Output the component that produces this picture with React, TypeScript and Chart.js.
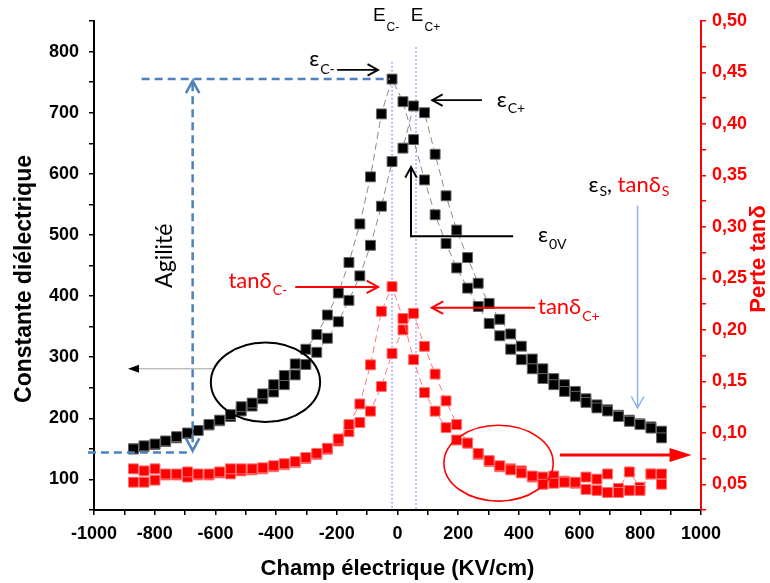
import React, { useEffect, useRef } from 'react';
import { Chart, registerables } from 'chart.js';

Chart.register(...registerables);

// Electric field (kV/cm) sweep points
const fieldKVcm = [
  -870, -835, -799, -764, -728, -692, -657, -621, -586, -550,
  -515, -479, -444, -408, -373, -337, -302, -266, -231, -195,
  -160, -124, -89, -53, -18, 18, 53, 89, 124, 160,
  195, 231, 266, 302, 337, 373, 408, 444, 479, 515,
  550, 586, 621, 657, 692, 728, 764, 799, 835, 870,
];

// Dielectric constant, branch peaking at Ec-
const permittivityBranchMinus = [
  150, 155, 158, 163, 170, 176, 180, 190, 197, 206,
  219, 225, 240, 255, 270, 289, 313, 337, 369, 405,
  455, 518, 595, 698, 755, 718, 656, 590, 533, 486,
  446, 413, 383, 355, 335, 313, 296, 281, 265, 255,
  244, 236, 226, 217, 212, 203, 195, 190, 184, 168,
];

// Dielectric constant, branch peaking at Ec+
const permittivityBranchPlus = [
  150, 154, 157, 162, 168, 175, 180, 189, 196, 203,
  212, 220, 232, 243, 255, 271, 288, 308, 331, 358,
  393, 433, 483, 547, 620, 642, 711, 700, 632, 564,
  508, 463, 421, 388, 362, 338, 318, 297, 281, 265,
  255, 244, 232, 222, 214, 205, 197, 191, 186, 179,
];

// Loss tangent, branch peaking at Ec-
const lossBranchMinus = [
  0.065, 0.063, 0.065, 0.060, 0.060, 0.062, 0.060, 0.060, 0.062, 0.065,
  0.065, 0.065, 0.066, 0.068, 0.070, 0.072, 0.076, 0.080, 0.085, 0.094,
  0.108, 0.128, 0.166, 0.218, 0.242, 0.211, 0.171, 0.139, 0.121, 0.105,
  0.093, 0.090, 0.080, 0.073, 0.068, 0.064, 0.061, 0.058, 0.050, 0.051,
  0.052, 0.052, 0.045, 0.044, 0.042, 0.042, 0.044, 0.044, 0.060, 0.050,
];

// Loss tangent, branch peaking at Ec+
const lossBranchPlus = [
  0.052, 0.052, 0.054, 0.059, 0.059, 0.057, 0.059, 0.059, 0.061, 0.060,
  0.063, 0.064, 0.065, 0.067, 0.069, 0.071, 0.075, 0.079, 0.084, 0.092,
  0.101, 0.110, 0.121, 0.145, 0.177, 0.200, 0.216, 0.184, 0.157, 0.131,
  0.108, 0.090, 0.079, 0.072, 0.067, 0.065, 0.063, 0.057, 0.057, 0.058,
  0.053, 0.051, 0.057, 0.055, 0.060, 0.046, 0.062, 0.047, 0.060, 0.060,
];

const xTicksLabelled = [-1000, -800, -600, -400, -200, 0, 200, 400, 600, 800, 1000];

const AX_FONT = "'Liberation Sans', Arial, sans-serif";
const ANN_FONT = "Lato, 'Open Sans', 'DejaVu Sans', sans-serif";

function chevron(ctx: CanvasRenderingContext2D, tx: number, ty: number, ang: number, len: number, spread: number) {
  ctx.beginPath();
  ctx.moveTo(tx - len * Math.cos(ang - spread), ty - len * Math.sin(ang - spread));
  ctx.lineTo(tx, ty);
  ctx.lineTo(tx - len * Math.cos(ang + spread), ty - len * Math.sin(ang + spread));
  ctx.stroke();
}

function subText(ctx: CanvasRenderingContext2D, x: number, y: number, main: string, sub: string,
  color: string, mainSize: number, subSize: number, subDy: number, subColor?: string) {
  ctx.textAlign = 'left';
  ctx.textBaseline = 'alphabetic';
  ctx.fillStyle = color;
  ctx.font = `${mainSize}px ${ANN_FONT}`;
  ctx.fillText(main, x, y);
  const w = ctx.measureText(main).width;
  ctx.fillStyle = subColor || color;
  ctx.font = `${subSize}px ${ANN_FONT}`;
  ctx.fillText(sub, x + w + 1, y + subDy);
  return x + w + 1 + ctx.measureText(sub).width;
}

const annotationPlugin = {
  id: 'figureAnnotations',
  beforeDatasetsDraw(chart: any) {
    const { ctx, scales } = chart;
    const X = (v: number) => scales.x.getPixelForValue(v);
    const Y = (v: number) => scales.y.getPixelForValue(v);
    ctx.save();
    ctx.strokeStyle = '#8c8cff';
    ctx.lineWidth = 1.5;
    ctx.setLineDash([1.5, 2.5]);
    ctx.beginPath();
    ctx.moveTo(X(-18), Y(783));
    ctx.lineTo(X(-18), Y(50));
    ctx.moveTo(X(61), Y(807));
    ctx.lineTo(X(61), Y(50));
    ctx.stroke();
    ctx.restore();
  },
  afterDraw(chart: any) {
    const { ctx, scales } = chart;
    const X = (v: number) => scales.x.getPixelForValue(v);
    const Y = (v: number) => scales.y.getPixelForValue(v);
    ctx.save();

    // Axis titles
    ctx.fillStyle = '#000';
    ctx.font = `bold 23px ${AX_FONT}`;
    ctx.textAlign = 'center';
    ctx.textBaseline = 'middle';
    ctx.save();
    ctx.translate(25, 279);
    ctx.rotate(-Math.PI / 2);
    ctx.fillText('Constante diélectrique', 0, 0);
    ctx.restore();

    ctx.fillStyle = '#ff0000';
    ctx.font = `bold 22px ${AX_FONT}`;
    ctx.save();
    ctx.translate(759, 259);
    ctx.rotate(-Math.PI / 2);
    ctx.fillText('Perte tanδ', 0, 0);
    ctx.restore();

    ctx.fillStyle = '#000';
    ctx.font = `bold 22px ${AX_FONT}`;
    ctx.textBaseline = 'alphabetic';
    ctx.fillText('Champ électrique (KV/cm)', (chart.chartArea.left + chart.chartArea.right) / 2, 575);

    // E_C- / E_C+ labels
    ctx.textAlign = 'left';
    const ecLabel = (xv: number, sub: string) => {
      const px = X(xv), py = Y(850);
      ctx.fillStyle = '#000';
      ctx.font = `19px ${AX_FONT}`;
      ctx.fillText('E', px, py);
      const w = ctx.measureText('E').width;
      ctx.font = `12px ${AX_FONT}`;
      ctx.fillText(sub, px + w + 1, py + 9.5);
    };
    ecLabel(-81, 'C-');
    ecLabel(44, 'C+');

    // Blue dashed agility lines
    ctx.strokeStyle = '#4f81bd';
    ctx.lineWidth = 2.5;
    ctx.setLineDash([8, 5]);
    ctx.beginPath();
    ctx.moveTo(X(-843), Y(755));
    ctx.lineTo(X(-25), Y(755));
    ctx.moveTo(X(-675), Y(748));
    ctx.lineTo(X(-675), Y(152));
    ctx.moveTo(X(-1020), Y(144));
    ctx.lineTo(X(-675), Y(144));
    ctx.stroke();
    ctx.setLineDash([]);
    chevron(ctx, X(-675), Y(752), -Math.PI / 2, 14, 0.5);
    chevron(ctx, X(-675), Y(147), Math.PI / 2, 14, 0.5);

    // Agilité
    ctx.fillStyle = '#000';
    ctx.font = `23px ${ANN_FONT}`;
    ctx.textAlign = 'center';
    ctx.textBaseline = 'alphabetic';
    ctx.save();
    ctx.translate(X(-743), Y(466));
    ctx.rotate(-Math.PI / 2);
    ctx.fillText('Agilité', 0, 0);
    ctx.restore();

    // Black ellipse + grey arrow
    ctx.strokeStyle = '#000';
    ctx.lineWidth = 2;
    ctx.beginPath();
    ctx.ellipse(X(-435), Y(259), X(-435 + 180) - X(-435), Y(259) - Y(259 + 65), 0, 0, Math.PI * 2);
    ctx.stroke();
    ctx.strokeStyle = '#a0a0a0';
    ctx.lineWidth = 1;
    ctx.beginPath();
    ctx.moveTo(X(-608), Y(281));
    ctx.lineTo(X(-880), Y(281));
    ctx.stroke();
    ctx.fillStyle = '#000';
    ctx.beginPath();
    ctx.moveTo(X(-888), Y(281));
    ctx.lineTo(X(-888) + 11, Y(281) - 4);
    ctx.lineTo(X(-888) + 11, Y(281) + 4);
    ctx.closePath();
    ctx.fill();

    // Red ellipse + red arrow
    ctx.strokeStyle = '#ff0000';
    ctx.lineWidth = 1.6;
    ctx.beginPath();
    ctx.ellipse(X(333), Y(126.6), X(333 + 180) - X(333), Y(126.6) - Y(126.6 + 62), 0, 0, Math.PI * 2);
    ctx.stroke();
    ctx.lineWidth = 3;
    ctx.beginPath();
    ctx.moveTo(X(535), Y(140));
    ctx.lineTo(X(905), Y(140));
    ctx.stroke();
    ctx.fillStyle = '#ff0000';
    ctx.beginPath();
    ctx.moveTo(X(969), Y(140));
    ctx.lineTo(X(969) - 22, Y(140) - 7);
    ctx.lineTo(X(969) - 22, Y(140) + 7);
    ctx.closePath();
    ctx.fill();

    // epsilon C-
    ctx.lineWidth = 1.8;
    subText(ctx, X(-291), Y(777), 'ε', 'C-', '#000', 22, 14, 8);
    ctx.strokeStyle = '#000';
    ctx.beginPath();
    ctx.moveTo(X(-199), Y(770));
    ctx.lineTo(X(-64), Y(770));
    ctx.stroke();
    chevron(ctx, X(-64), Y(770), 0, 12, 0.5);

    // epsilon C+
    ctx.beginPath();
    ctx.moveTo(X(278), Y(720.5));
    ctx.lineTo(X(114), Y(720.5));
    ctx.stroke();
    chevron(ctx, X(114), Y(720.5), Math.PI, 12, 0.5);
    subText(ctx, X(327), Y(709), 'ε', 'C+', '#000', 22, 14, 6);

    // epsilon 0V
    ctx.lineWidth = 2;
    ctx.beginPath();
    ctx.moveTo(X(44.5), Y(609));
    ctx.lineTo(X(44.5), Y(498));
    ctx.lineTo(X(381), Y(498));
    ctx.stroke();
    chevron(ctx, X(44.5), Y(611), -Math.PI / 2, 12, 0.5);
    subText(ctx, X(463), Y(488), 'ε', '0V', '#000', 22, 14, 7);

    // epsilon S, tan delta S
    let nx = subText(ctx, X(629), Y(570), 'ε', 'S', '#000', 22, 14, 4);
    ctx.fillStyle = '#000';
    ctx.font = `22px ${ANN_FONT}`;
    ctx.fillText(',', nx, Y(570));
    nx += ctx.measureText(', ').width;
    subText(ctx, nx, Y(570), 'tanδ', 'S', '#ff0000', 22, 14, 4);
    ctx.strokeStyle = '#8db3e2';
    ctx.lineWidth = 1.5;
    ctx.beginPath();
    ctx.moveTo(X(791), Y(548));
    ctx.lineTo(X(791), Y(218));
    ctx.stroke();
    chevron(ctx, X(791), Y(217), Math.PI / 2, 13, 0.5);

    // tan delta C-
    subText(ctx, X(-557), Y(414), 'tanδ', 'C-', '#ff0000', 22, 14, 7);
    ctx.strokeStyle = '#ff0000';
    ctx.lineWidth = 2;
    ctx.beginPath();
    ctx.moveTo(X(-337), Y(415));
    ctx.lineTo(X(-64), Y(415));
    ctx.stroke();
    chevron(ctx, X(-64), Y(415), 0, 13, 0.5);

    // tan delta C+
    ctx.beginPath();
    ctx.moveTo(X(453), Y(381));
    ctx.lineTo(X(113), Y(381));
    ctx.stroke();
    chevron(ctx, X(113), Y(381), Math.PI, 13, 0.5);
    subText(ctx, X(463), Y(370), 'tanδ', 'C+', '#ff0000', 22, 14, 7);

    ctx.restore();
  },
};

export default function App() {
  const canvasRef = useRef<HTMLCanvasElement>(null);

  useEffect(() => {
    if (!canvasRef.current) return;
    const pts = (ys: number[]) => fieldKVcm.map((x, i) => ({ x, y: ys[i] }));
    const blackStyle = {
      showLine: true,
      borderColor: '#8a8a8a',
      borderWidth: 1,
      borderDash: [7, 4],
      pointStyle: 'rect' as const,
      pointRadius: 7,
      pointBackgroundColor: '#000',
      pointBorderColor: '#666',
      pointBorderWidth: 1,
      yAxisID: 'y',
    };
    const redStyle = {
      showLine: true,
      borderColor: '#ff7a7a',
      borderWidth: 1,
      borderDash: [7, 4],
      pointStyle: 'rect' as const,
      pointRadius: 7,
      pointBackgroundColor: '#ff0000',
      pointBorderColor: '#ff7070',
      pointBorderWidth: 1,
      yAxisID: 'y1',
    };
    const chart = new Chart(canvasRef.current, {
      type: 'scatter',
      data: {
        datasets: [
          { label: 'tanδ (Ec-)', data: pts(lossBranchMinus), ...redStyle },
          { label: 'tanδ (Ec+)', data: pts(lossBranchPlus), ...redStyle },
          { label: 'ε (Ec-)', data: pts(permittivityBranchMinus), ...blackStyle },
          { label: 'ε (Ec+)', data: pts(permittivityBranchPlus), ...blackStyle },
        ],
      },
      options: {
        animation: false,
        responsive: true,
        maintainAspectRatio: false,
        layout: { padding: { top: 21, left: 0, right: 0, bottom: 0 } },
        plugins: { legend: { display: false }, tooltip: { enabled: false } },
        scales: {
          x: {
            type: 'linear',
            position: 'bottom',
            min: -1000,
            max: 1000,
            afterFit: (s: any) => { s.height = 73; },
            ticks: {
              stepSize: 100,
              autoSkip: false,
              maxRotation: 0,
              padding: 8,
              color: '#000',
              font: { family: AX_FONT, size: 18, weight: 'bold' },
              callback: (v: any) => (xTicksLabelled.includes(Number(v)) ? String(v) : ''),
            },
            grid: { drawOnChartArea: false, drawTicks: true, tickLength: 5, color: '#000', lineWidth: 1.5 },
            border: { display: true, color: '#000', width: 2 },
          },
          y: {
            type: 'linear',
            position: 'left',
            min: 50,
            max: 850,
            afterFit: (s: any) => { s.width = 94; },
            ticks: {
              stepSize: 50,
              autoSkip: false,
              padding: 10,
              color: '#000',
              font: { family: AX_FONT, size: 18, weight: 'bold' },
              callback: (v: any) => (v % 100 === 0 && v >= 100 && v <= 800 ? String(v) : ''),
            },
            grid: { drawOnChartArea: false, drawTicks: true, tickLength: 5, color: '#000', lineWidth: 1.5 },
            border: { display: true, color: '#000', width: 2 },
          },
          y1: {
            type: 'linear',
            position: 'right',
            min: 0.025,
            max: 0.5,
            afterFit: (s: any) => { s.width = 69; },
            ticks: {
              stepSize: 0.025,
              autoSkip: false,
              padding: 6,
              color: '#ff0000',
              font: { family: AX_FONT, size: 18, weight: 'bold' },
              callback: (v: any) => {
                const n = Number(v) * 100;
                const r = Math.round(n);
                return r % 5 === 0 && Math.abs(n - r) < 1e-6 ? Number(v).toFixed(2).replace('.', ',') : '';
              },
            },
            grid: { drawOnChartArea: false, drawTicks: true, tickLength: 5, color: '#ff0000', lineWidth: 1.5 },
            border: { display: true, color: '#ff0000', width: 2 },
          },
        },
      },
      plugins: [annotationPlugin],
    } as any);
    return () => chart.destroy();
  }, []);

  return (
    <div style={{ position: 'fixed', left: 0, top: 0, width: 770, height: 583, background: '#fff' }}>
      <canvas ref={canvasRef} />
    </div>
  );
}
